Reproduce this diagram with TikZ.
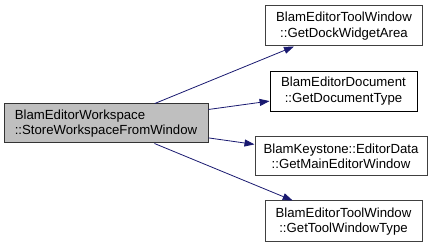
\documentclass[tikz,border=0pt]{standalone}
\usepackage{fontspec}
\setmainfont{Liberation Sans}
\usetikzlibrary{arrows.meta}
\definecolor{edgeblue}{HTML}{191970}
\definecolor{nodegray}{HTML}{BFBFBF}
\definecolor{bordergray}{HTML}{404040}
\begin{document}
\begin{tikzpicture}[x=1pt,y=-1pt,
  fnode/.style={draw=bordergray,line width=1pt,fill=white,inner sep=0pt,align=center,
    font=\fontsize{13.2}{15.5}\selectfont},
  edge/.style={draw=edgeblue,line width=0.8pt,-{Stealth[length=10pt,width=7pt,inset=0pt]}}]
\useasboundingbox (0,0) rectangle (437,248);
\node[fnode,draw=black!80,fill=nodegray,align=left,minimum width=204pt,minimum height=39pt] (ws) at (106,123.5)
  {BlamEditorWorkspace\\::StoreWorkspaceFromWindow};
\node[fnode,minimum width=157pt,minimum height=40pt] (n1) at (344,26)
  {BlamEditorToolWindow\\::GetDockWidgetArea};
\node[fnode,draw=black,line width=0.8pt,minimum width=147pt,minimum height=40pt] (n2) at (343.5,91)
  {BlamEditorDocument\\::GetDocumentType};
\node[fnode,minimum width=172pt,minimum height=39pt] (n3) at (341,156.5)
  {BlamKeystone::EditorData\\::GetMainEditorWindow};
\node[fnode,minimum width=157pt,minimum height=41pt] (n4) at (343.5,221.5)
  {BlamEditorToolWindow\\::GetToolWindowType};
\draw[edge] (ws) -- (n1);
\draw[edge] (ws) -- (n2);
\draw[edge] (ws) -- (n3);
\draw[edge] (ws) -- (n4);
\end{tikzpicture}
\end{document}
